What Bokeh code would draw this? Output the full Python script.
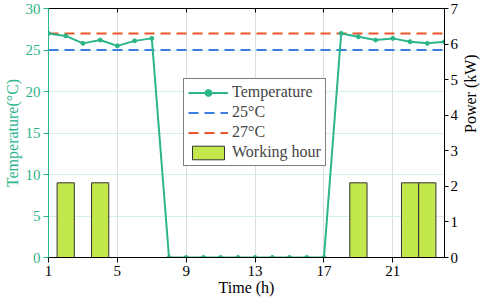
import math
from bokeh.plotting import figure
from bokeh.models import (Range1d, LinearAxis, FixedTicker, Legend, LegendItem)
from bokeh.embed import file_html
from bokeh.resources import INLINE

# ---- data ----
hours = list(range(1, 25))
temperature = [27.0, 26.7, 25.8, 26.2, 25.5, 26.1, 26.4, 0, 0, 0, 0, 0, 0, 0, 0, 0, 0,
               27.0, 26.6, 26.2, 26.4, 26.0, 25.8, 26.0]
low_limit = [25] * len(hours)
high_limit = [27] * len(hours)
work_hours = [2, 4, 19, 22, 23]
work_power = [2.1, 2.1, 2.1, 2.1, 2.1]
x_ticks = [1, 5, 9, 13, 17, 21]
temp_ticks = [0, 5, 10, 15, 20, 25, 30]
power_ticks = [0, 1, 2, 3, 4, 5, 6, 7]

TEAL = "#2bb58a"
BLUE = "#3a7fe0"
RED = "#e8552a"
BAR = "#c2e84c"
FONT = "Liberation Serif"

p = figure(width=490, height=298, output_backend="svg", toolbar_location=None,
           x_range=Range1d(1, 24), y_range=Range1d(0, 30),
           min_border_left=38, min_border_right=20, min_border_top=8,
           min_border_bottom=40)
p.extra_y_ranges = {"power": Range1d(0, 7)}
p.outline_line_color = "black"
p.outline_line_width = 1
p.background_fill_color = "white"

# bars
bars = p.vbar(x=work_hours, top=work_power, width=1.0, y_range_name="power",
              fill_color=BAR, line_color="#333333", line_width=1)
# limit lines
l25 = p.line(hours, low_limit, line_color=BLUE, line_width=2, line_dash="10 6")
l27 = p.line(hours, high_limit, line_color=RED, line_width=2, line_dash="10 6")
# temperature
tl = p.line(hours, temperature, line_color=TEAL, line_width=2)
tm = p.scatter(hours, temperature, size=4, color=TEAL)

# axes styling
xa = p.xaxis[0]
xa.ticker = FixedTicker(ticks=x_ticks)
xa.axis_label = "Time (h)"
ya = p.yaxis[0]
ya.ticker = FixedTicker(ticks=temp_ticks)
ya.axis_label = "Temperature(°C)"

ra = LinearAxis(y_range_name="power", ticker=FixedTicker(ticks=power_ticks),
                axis_label="Power (kW)")
p.add_layout(ra, "right")

ta = LinearAxis(ticker=FixedTicker(ticks=x_ticks))
p.add_layout(ta, "above")
ta.major_tick_in = 4
ta.major_tick_out = 0
ta.minor_tick_line_color = None
ta.major_label_text_font_size = "1px"
ta.major_label_text_alpha = 0
ta.major_label_standoff = 0
ta.axis_line_color = "black"

for ax in (xa, ya, ra):
    ax.major_tick_in = 0
    ax.major_tick_out = 5
    ax.minor_tick_line_color = None
    ax.major_label_text_font = FONT
    ax.major_label_text_font_size = "15px"
    ax.axis_label_text_font = FONT
    ax.axis_label_text_font_size = "16px"
    ax.axis_label_text_font_style = "normal"
    ax.major_label_standoff = 3
    ax.axis_label_standoff = 2
    ax.axis_line_color = "black"
    ax.major_tick_line_color = "black"
    ax.major_label_text_color = "black"
    ax.axis_label_text_color = "black"

xa.axis_label_standoff = 0
ra.major_tick_out = 4
ra.major_label_standoff = 2
ra.axis_label_standoff = 9
ra.axis_label_orientation = math.pi / 2

ya.axis_line_color = TEAL
ya.major_tick_line_color = TEAL
ya.major_label_text_color = TEAL
ya.axis_label_text_color = TEAL

# grids
p.xgrid.ticker = FixedTicker(ticks=x_ticks)
p.xgrid.grid_line_color = "#dcdcdc"
p.ygrid.ticker = FixedTicker(ticks=temp_ticks)
p.ygrid.grid_line_color = "#d3efe6"

legend = Legend(items=[
    LegendItem(label="Temperature", renderers=[tl, tm]),
    LegendItem(label="25°C", renderers=[l25]),
    LegendItem(label="27°C", renderers=[l27]),
    LegendItem(label="Working hour", renderers=[bars]),
], location=(135, 91))
legend.label_text_font = FONT
legend.label_text_font_size = "16px"
legend.glyph_width = 40
legend.glyph_height = 17
legend.label_height = 17
legend.spacing = 2
legend.padding = 4
legend.margin = 0
legend.label_standoff = 4
legend.border_line_color = "black"
legend.border_line_width = 1
legend.background_fill_alpha = 1
p.add_layout(legend)

open("out.html", "w").write(file_html(p, INLINE))
